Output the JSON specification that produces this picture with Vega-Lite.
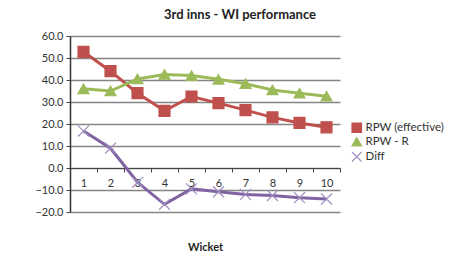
{
  "$schema": "https://vega.github.io/schema/vega-lite/v6.json",
  "width": 270,
  "height": 176,
  "autosize": {"type": "none"},
  "padding": {"left": 70, "top": 36, "right": 123, "bottom": 54},
  "background": "#ffffff",
  "config": {
    "font": "Lato",
    "view": {"stroke": null}
  },
  "title": {
    "text": "3rd inns - WI performance",
    "fontSize": 13,
    "fontWeight": "bold",
    "color": "#222222",
    "anchor": "middle",
    "dx": 35,
    "offset": 8
  },
  "data": {
    "values": [
      {"wicket": 1, "series": "RPW (effective)", "value": 52.8},
      {"wicket": 2, "series": "RPW (effective)", "value": 44.0},
      {"wicket": 3, "series": "RPW (effective)", "value": 34.0},
      {"wicket": 4, "series": "RPW (effective)", "value": 26.0},
      {"wicket": 5, "series": "RPW (effective)", "value": 32.5},
      {"wicket": 6, "series": "RPW (effective)", "value": 29.5},
      {"wicket": 7, "series": "RPW (effective)", "value": 26.3},
      {"wicket": 8, "series": "RPW (effective)", "value": 23.0},
      {"wicket": 9, "series": "RPW (effective)", "value": 20.5},
      {"wicket": 10, "series": "RPW (effective)", "value": 18.5},
      {"wicket": 1, "series": "RPW - R", "value": 36.0},
      {"wicket": 2, "series": "RPW - R", "value": 35.0},
      {"wicket": 3, "series": "RPW - R", "value": 40.5},
      {"wicket": 4, "series": "RPW - R", "value": 42.5},
      {"wicket": 5, "series": "RPW - R", "value": 42.0},
      {"wicket": 6, "series": "RPW - R", "value": 40.3},
      {"wicket": 7, "series": "RPW - R", "value": 38.3},
      {"wicket": 8, "series": "RPW - R", "value": 35.5},
      {"wicket": 9, "series": "RPW - R", "value": 34.0},
      {"wicket": 10, "series": "RPW - R", "value": 32.6},
      {"wicket": 1, "series": "Diff", "value": 16.8},
      {"wicket": 2, "series": "Diff", "value": 9.0},
      {"wicket": 3, "series": "Diff", "value": -6.5},
      {"wicket": 4, "series": "Diff", "value": -16.5},
      {"wicket": 5, "series": "Diff", "value": -9.5},
      {"wicket": 6, "series": "Diff", "value": -10.8},
      {"wicket": 7, "series": "Diff", "value": -12.0},
      {"wicket": 8, "series": "Diff", "value": -12.5},
      {"wicket": 9, "series": "Diff", "value": -13.5},
      {"wicket": 10, "series": "Diff", "value": -14.1}
    ]
  },
  "encoding": {
    "x": {
      "field": "wicket",
      "type": "ordinal",
      "scale": {"type": "band", "paddingInner": 0, "paddingOuter": 0},
      "axis": {
        "title": "Wicket",
        "titleFontSize": 11,
        "titleFontWeight": "bold",
        "titleColor": "#222222",
        "titleY": 79,
        "titleBaseline": "middle",
        "offset": -44,
        "labelAngle": 0,
        "labelFontSize": 11,
        "labelColor": "#333333",
        "labelPadding": 5,
        "tickBand": "extent",
        "tickSize": 4,
        "tickColor": "#444444",
        "domainColor": "#444444",
        "domainWidth": 1,
        "grid": false
      }
    },
    "y": {
      "field": "value",
      "type": "quantitative",
      "scale": {"domain": [-20, 60], "nice": false, "zero": false},
      "axis": {
        "title": null,
        "values": [-20, -10, 0, 10, 20, 30, 40, 50, 60],
        "format": ".1f",
        "labelFontSize": 11,
        "labelColor": "#333333",
        "labelPadding": 3,
        "tickSize": 4,
        "tickColor": "#444444",
        "domainColor": "#333333",
        "domainWidth": 1.5,
        "grid": true,
        "gridColor": "#858585",
        "gridWidth": 1.5
      }
    }
  },
  "layer": [
    {
      "mark": {"type": "line", "strokeWidth": 3},
      "encoding": {
        "color": {
          "field": "series",
          "type": "nominal",
          "scale": {
            "domain": ["RPW (effective)", "RPW - R", "Diff"],
            "range": ["#C0504D", "#9BBB59", "#8064A2"]
          },
          "legend": null
        }
      }
    },
    {
      "mark": {"type": "point", "filled": true, "size": 120, "strokeWidth": 1.2, "opacity": 1},
      "encoding": {
        "shape": {
          "field": "series",
          "type": "nominal",
          "scale": {
            "domain": ["RPW (effective)", "RPW - R", "Diff"],
            "range": ["square", "triangle-up", "M-1,-1L1,1M1,-1L-1,1"]
          },
          "legend": {
            "title": null,
            "orient": "none",
            "legendX": 281,
            "legendY": 86,
            "labelFontSize": 11.5,
            "labelColor": "#333333",
            "symbolSize": 90,
            "symbolStrokeWidth": 1.2,
            "rowPadding": 0,
            "labelOffset": 3
          }
        },
        "fill": {
          "field": "series",
          "type": "nominal",
          "scale": {
            "domain": ["RPW (effective)", "RPW - R", "Diff"],
            "range": ["#C0504D", "#9BBB59", "#A090C0"]
          }
        },
        "stroke": {
          "field": "series",
          "type": "nominal",
          "scale": {
            "domain": ["RPW (effective)", "RPW - R", "Diff"],
            "range": ["#C0504D", "#9BBB59", "#A090C0"]
          }
        }
      }
    }
  ],
  "resolve": {"scale": {"color": "independent"}}
}
